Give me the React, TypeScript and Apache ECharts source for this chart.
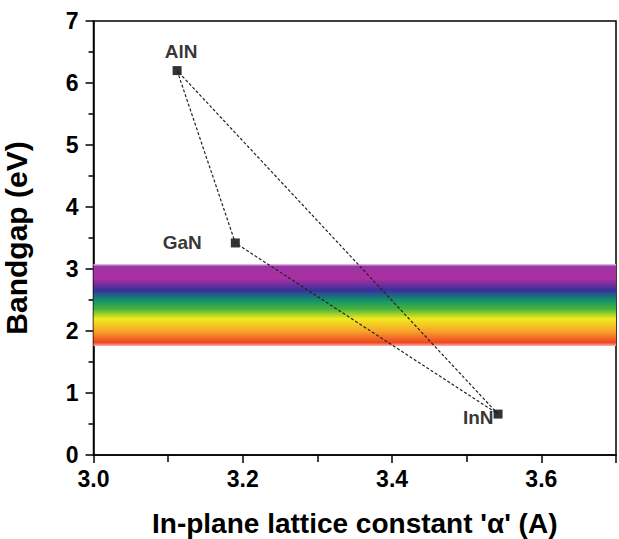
import React, { useEffect, useRef } from "react";
import * as echarts from "echarts";

const materials = ["AlN", "GaN", "InN"];
const latticeConstants = [3.112, 3.19, 3.542];
const bandgaps = [6.2, 3.42, 0.66];
const triangleOrder = [0, 1, 2, 0];
const visibleBand = [1.76, 3.08];
const X_MIN = 3.0;
const X_MAX = 3.7;

export default function App() {
  const ref = useRef<HTMLDivElement>(null);
  useEffect(() => {
    if (!ref.current) return;
    document.body.style.margin = "0";
    const chart = echarts.init(ref.current, null, { renderer: "svg" });
    const font = "Liberation Sans";
    const ls = () => ({ color: "#000", width: 1.5 });
    const labelPos: any = {
      AlN: { position: "top", distance: 5, offset: [4, 0] },
      GaN: { position: "left", distance: 29 },
      InN: { position: "left", distance: 0, offset: [0, 3] },
    };
    const pts = materials.map((m, i) => ({
      value: [latticeConstants[i], bandgaps[i]],
      label: {
        show: true,
        formatter: m,
        fontWeight: "bold",
        fontSize: 19,
        fontFamily: font,
        color: "#000",
        ...labelPos[m],
      },
    }));
    const tri = triangleOrder.map((i) => [latticeConstants[i], bandgaps[i]]);
    chart.setOption({
      animation: false,
      backgroundColor: "#fff",
      grid: {
        left: 93.5,
        right: 3,
        top: 21,
        bottom: 84,
        outerBoundsMode: "none",
        show: true,
        borderColor: "#000",
        borderWidth: 1.5,
      },
      xAxis: {
        type: "value",
        min: X_MIN,
        max: X_MAX,
        interval: 0.2,
        name: "In-plane lattice constant '\u03b1' (A)",
        nameLocation: "middle",
        nameGap: 54,
        nameTextStyle: { fontSize: 28, fontWeight: "bold", fontFamily: font, color: "#000" },
        axisLine: { show: true, onZero: false, lineStyle: ls() },
        axisTick: { show: true, length: 8, lineStyle: ls() },
        minorTick: { show: true, splitNumber: 2, length: 7, lineStyle: ls() },
        splitLine: { show: false },
        axisLabel: {
          fontSize: 23,
          fontWeight: "bold",
          fontFamily: font,
          color: "#000",
          margin: 12,
          showMaxLabel: false,
          formatter: (v: number) => v.toFixed(1),
        },
      },
      yAxis: {
        type: "value",
        min: 0,
        max: 7,
        interval: 1,
        name: "Bandgap (eV)",
        nameLocation: "middle",
        nameGap: 62,
        nameTextStyle: { fontSize: 30, fontWeight: "bold", fontFamily: font, color: "#000" },
        axisLine: { show: true, onZero: false, lineStyle: ls() },
        axisTick: { show: true, length: 8, lineStyle: ls() },
        minorTick: { show: true, splitNumber: 2, length: 5, lineStyle: ls() },
        splitLine: { show: false },
        axisLabel: { fontSize: 23, fontWeight: "bold", fontFamily: font, color: "#000", margin: 15 },
      },
      series: [
        {
          type: "line",
          data: tri,
          symbol: "none",
          lineStyle: { color: "#222", width: 1.2, type: [3, 2] },
          markArea: {
            silent: true,
            itemStyle: {
              color: new echarts.graphic.LinearGradient(0, 0, 0, 1, [
                { offset: 0, color: "#ecc6ee" },
                { offset: 0.03, color: "#9c35a4" },
                { offset: 0.18, color: "#ac2ea0" },
                { offset: 0.32, color: "#37309c" },
                { offset: 0.44, color: "#12906c" },
                { offset: 0.55, color: "#48b43c" },
                { offset: 0.67, color: "#f2ea1e" },
                { offset: 0.82, color: "#f8a42a" },
                { offset: 0.96, color: "#f04424" },
                { offset: 1, color: "#f6b4a6" },
              ]),
            },
            data: [[{ xAxis: X_MIN, yAxis: visibleBand[1] }, { xAxis: X_MAX, yAxis: visibleBand[0] }]],
          },
        },
        {
          type: "scatter",
          data: pts,
          symbol: "rect",
          symbolSize: 9,
          itemStyle: { color: "#000" },
        },
      ],
    });
    return () => chart.dispose();
  }, []);
  return <div ref={ref} style={{ width: 619, height: 539 }} />;
}
